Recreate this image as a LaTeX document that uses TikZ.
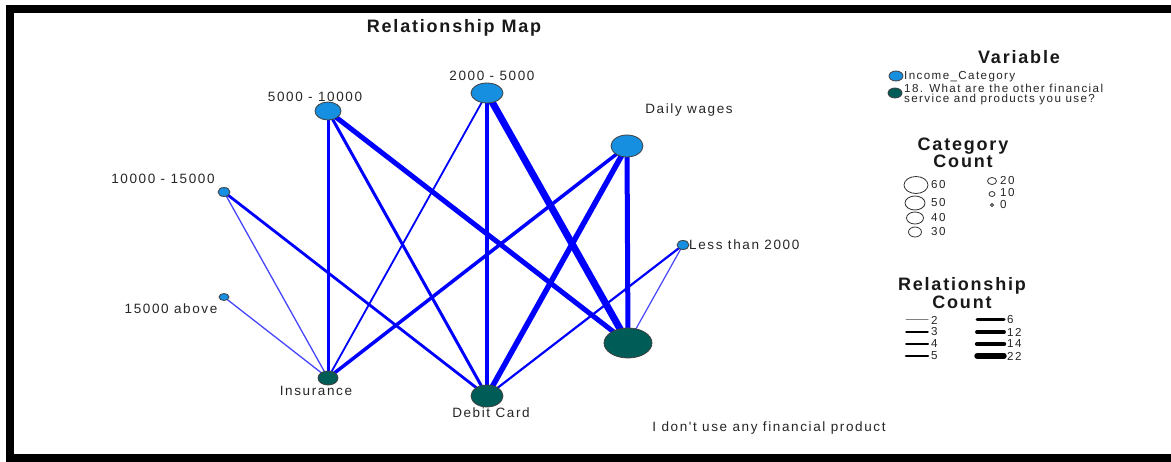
\documentclass[tikz,border=0pt]{standalone}
\usepackage{fontspec}
\setmainfont{Liberation Sans}
\newfontfamily\labfont[LetterSpace=12]{Liberation Sans}
\newfontfamily\ttlfont[LetterSpace=10]{Liberation Sans}
\usetikzlibrary{shapes.geometric,backgrounds}
\definecolor{incblue}{RGB}{22,143,224}
\definecolor{prodteal}{RGB}{0,92,87}
\definecolor{edgeblue}{RGB}{0,0,255}
\definecolor{thinblue}{RGB}{70,70,255}
\begin{document}
\begin{tikzpicture}[x=1pt,y=-1pt,
  inc/.style={ellipse, draw=black!75, line width=0.8pt, fill=incblue, inner sep=0pt},
  prod/.style={ellipse, draw=black!75, line width=0.8pt, fill=prodteal, inner sep=0pt},
  cnt/.style={ellipse, draw=black!80, line width=0.8pt, fill=white, inner sep=0pt},
  lab/.style={font=\labfont\fontsize{13.5}{14}\selectfont, text=black!85, inner sep=0pt},
  slab/.style={font=\labfont\fontsize{11.6}{10}\selectfont, text=black!85, inner sep=0pt},
  ttl/.style={font=\ttlfont\bfseries\fontsize{18}{14}\selectfont, text=black!90, inner sep=0pt, align=center},
  rel/.style={draw=edgeblue, line width=#1},
  threl/.style={draw=thinblue, line width=#1},
  leg/.style={draw=black, line width=#1, line cap=round}
]
\useasboundingbox (0,0) rectangle (1171,462);

% frame
\fill[black] (6,5) rectangle (1171,13);
\fill[black] (6,5) rectangle (14,462);
\fill[black] (6,454) rectangle (1171,462);

% title
\node[ttl] (title) at (454,28) {Relationship Map};

% income category nodes
\node[inc, minimum width=26pt, minimum height=18pt] (n5k) at (328,111) {};
\node[inc, minimum width=32pt, minimum height=20pt] (n2k) at (487,93) {};
\node[inc, minimum width=32pt, minimum height=22pt] (dw) at (627,146) {};
\node[inc, minimum width=12pt, minimum height=9pt] (n10k) at (224,192) {};
\node[inc, minimum width=12pt, minimum height=9pt] (lt2k) at (683,245) {};
\node[inc, minimum width=10pt, minimum height=7pt] (n15k) at (224,297) {};

% product nodes
\node[prod, minimum width=20pt, minimum height=14pt] (ins) at (328,378) {};
\node[prod, minimum width=32pt, minimum height=22pt] (deb) at (487,396) {};
\node[prod, minimum width=48pt, minimum height=30pt] (none) at (628,343) {};

% labels
\node[lab] (l5k) at (315,97) {5000 - 10000};
\node[lab] (l2k) at (492,76) {2000 - 5000};
\node[lab] (ldw) at (689,110) {Daily wages};
\node[lab] (l10k) at (163,179) {10000 - 15000};
\node[lab, anchor=west] (llt2k) at (689,245) {Less than 2000};
\node[lab] (l15k) at (171,309) {15000 above};
\node[lab] (lins) at (316,391) {Insurance};
\node[lab] (ldeb) at (491,413) {Debit Card};
\node[lab] (lnone) at (769,428) {I don't use any financial product};

% edges
\begin{pgfonlayer}{background}
\fill[white] (0,0) rectangle (1171,462);
\draw[rel=3pt] (n5k.center) -- (ins.center);
\draw[rel=3pt] (n5k.center) -- (deb.center);
\draw[rel=5pt] (n5k.center) -- (none.center);
\draw[rel=1.8pt] (n2k.center) -- (ins.center);
\draw[rel=4pt] (n2k.center) -- (deb.center);
\draw[rel=7pt] (n2k.center) -- (none.center);
\draw[rel=3.5pt] (dw.center) -- (ins.center);
\draw[rel=5.5pt] (dw.center) -- (deb.center);
\draw[rel=5pt] (dw.center) -- (none.center);
\draw[threl=1.3pt] (n10k.center) -- (ins.center);
\draw[rel=2.8pt] (n10k.center) -- (deb.center);
\draw[threl=1.3pt] (n15k.center) -- (ins.center);
\draw[rel=2.2pt] (lt2k.center) -- (deb.center);
\draw[threl=1.2pt] (lt2k.center) -- (none.center);
\end{pgfonlayer}

% Variable legend
\node[ttl] (tvar) at (1019,57) {Variable};
\node[inc, minimum width=14pt, minimum height=10pt] (vinc) at (896,76) {};
\node[slab, anchor=west] (vinct) at (904,77) {Income\_Category};
\node[prod, minimum width=14pt, minimum height=10pt] (vprod) at (895,93) {};
\node[slab, anchor=north west, align=left] (vprodt) at (904,84) {18. What are the other financial\\service and products you use?};

% Category count legend
\node[ttl] (tcat) at (963,153) {Category\\Count};
\node[cnt, minimum width=24pt, minimum height=17pt] (c60) at (916,185) {};
\node[cnt, minimum width=20pt, minimum height=14pt] (c50) at (915,203) {};
\node[cnt, minimum width=17pt, minimum height=12pt] (c40) at (915,218) {};
\node[cnt, minimum width=13pt, minimum height=10pt] (c30) at (915,232) {};
\node[cnt, minimum width=9pt, minimum height=7pt] (c20) at (992,181) {};
\node[cnt, minimum width=6pt, minimum height=5pt] (c10) at (992,194) {};
\node[cnt, minimum width=3pt, minimum height=3pt] (c0) at (992,205) {};
\node[slab, anchor=west] at (931,185) {60};
\node[slab, anchor=west] at (931,203) {50};
\node[slab, anchor=west] at (931,218) {40};
\node[slab, anchor=west] at (931,232) {30};
\node[slab, anchor=west] at (1000,181) {20};
\node[slab, anchor=west] at (1000,193) {10};
\node[slab, anchor=west] at (1000,205) {0};

% Relationship count legend
\node[ttl] (trel) at (962,293) {Relationship\\Count};
\coordinate (r2a) at (906,320); \coordinate (r2b) at (928,320);
\coordinate (r3a) at (906,332); \coordinate (r3b) at (928,332);
\coordinate (r4a) at (906,344); \coordinate (r4b) at (928,344);
\coordinate (r5a) at (906,356); \coordinate (r5b) at (928,356);
\coordinate (r6a) at (977,320); \coordinate (r6b) at (1004,320);
\coordinate (r12a) at (977,332); \coordinate (r12b) at (1004,332);
\coordinate (r14a) at (977,344); \coordinate (r14b) at (1004,344);
\coordinate (r22a) at (977,356); \coordinate (r22b) at (1004,356);
\draw[leg=1pt, draw=black!50] (r2a) -- (r2b);
\draw[leg=1.4pt] (r3a) -- (r3b);
\draw[leg=2pt] (r4a) -- (r4b);
\draw[leg=2.6pt] (r5a) -- (r5b);
\draw[leg=3pt] (r6a) -- (r6b);
\draw[leg=3.8pt] (r12a) -- (r12b);
\draw[leg=4.4pt] (r14a) -- (r14b);
\draw[leg=5.4pt] (r22a) -- (r22b);
\node[slab, anchor=west] at (931,320) {2};
\node[slab, anchor=west] at (931,332) {3};
\node[slab, anchor=west] at (931,344) {4};
\node[slab, anchor=west] at (931,356) {5};
\node[slab, anchor=west] at (1007,320) {6};
\node[slab, anchor=west] at (1007,332) {12};
\node[slab, anchor=west] at (1007,344) {14};
\node[slab, anchor=west] at (1007,356) {22};
\end{tikzpicture}
\end{document}
